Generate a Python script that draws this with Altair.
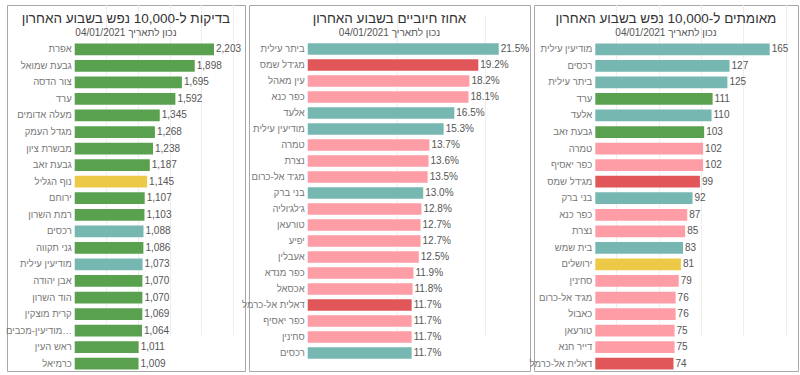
import altair as alt
import pandas as pd

# Panel 1: tests per 10,000 residents in the last week
t_names = ["אפרת", "גבעת שמואל", "צור הדסה", "ערד", "מעלה אדומים", "מגדל העמק",
           "מבשרת ציון", "גבעת זאב", "נוף הגליל", "ירוחם", "רמת השרון", "רכסים",
           "גני תקווה", "מודיעין עילית", "אבן יהודה", "הוד השרון", "קרית מוצקין",
           "מודיעין-מכבים-רעות", "ראש העין", "כרמיאל"]
t_vals = [2203, 1898, 1695, 1592, 1345, 1268, 1238, 1187, 1145, 1107, 1103, 1088,
          1086, 1073, 1070, 1070, 1069, 1064, 1011, 1009]
t_cols = ["g", "g", "g", "g", "g", "g", "g", "g", "y", "g", "g", "t",
          "g", "t", "g", "g", "g", "g", "g", "g"]

# Panel 2: percent positive in the last week
p_names = ["ביתר עילית", "מג'דל שמס", "עין מאהל", "כפר כנא", "אלעד", "מודיעין עילית",
           "טמרה", "נצרת", "מג'ד אל-כרום", "בני ברק", "ג'לג'וליה", "טורעאן", "יפיע",
           "אעבלין", "כפר מנדא", "אכסאל", "דאלית אל-כרמל", "כפר יאסיף", "סח'נין", "רכסים"]
p_vals = [21.5, 19.2, 18.2, 18.1, 16.5, 15.3, 13.7, 13.6, 13.5, 13.0, 12.8, 12.7, 12.7,
          12.5, 11.9, 11.8, 11.7, 11.7, 11.7, 11.7]
p_cols = ["t", "r", "p", "p", "t", "t", "p", "p", "p", "t", "p", "p", "p",
          "p", "p", "p", "r", "p", "p", "t"]

# Panel 3: confirmed per 10,000 residents in the last week
c_names = ["מודיעין עילית", "רכסים", "ביתר עילית", "ערד", "אלעד", "גבעת זאב", "טמרה",
           "כפר יאסיף", "מג'דל שמס", "בני ברק", "כפר כנא", "נצרת", "בית שמש", "ירושלים",
           "סח'נין", "מג'ד אל-כרום", "כאבול", "טורעאן", "דייר חנא", "דאלית אל-כרמל"]
c_vals = [165, 127, 125, 111, 110, 103, 102, 102, 99, 92, 87, 85, 83, 81, 79, 76, 76,
          75, 75, 74]
c_cols = ["t", "t", "t", "g", "t", "g", "p", "p", "r", "t", "p", "p", "t", "y",
          "p", "p", "p", "p", "p", "r"]

color_keys = ["g", "t", "p", "r", "y"]
color_vals = ["#59A14F", "#76B7B2", "#FF9DA7", "#E15759", "#EDC948"]

subtitle = "נכון לתאריך 04/01/2021"
FONT = "Liberation Sans"
VIEW_H = 366


def panel(names, vals, cols, width, domain, yrange, title, grid_vals, label_expr, limit):
    df = pd.DataFrame({"name": names, "v": vals, "c": cols})
    base = alt.Chart(df).transform_calculate(lab=label_expr).encode(
        y=alt.Y("name:N", sort=list(names), axis=None,
                scale=alt.Scale(range=yrange, paddingInner=0.29, paddingOuter=0.145))
    )
    xscale = alt.Scale(domain=domain, nice=False, zero=False)
    bars = base.mark_bar().encode(
        x=alt.X("v:Q", scale=xscale,
                axis=alt.Axis(values=grid_vals, labels=False, ticks=False, domain=False,
                              grid=True, gridColor="#eeeeee", title=None)),
        x2=alt.datum(0),
        color=alt.Color("c:N", scale=alt.Scale(domain=color_keys, range=color_vals),
                        legend=None),
    )
    labels = base.mark_text(align="right", dx=-3, fontSize=9.5, color="#777",
                            font=FONT, limit=limit).encode(
        x=alt.datum(0), text="name:N")
    values = base.mark_text(align="left", dx=2, fontSize=10, color="#555",
                            font=FONT).encode(
        x=alt.X("v:Q", scale=xscale), text="lab:N")
    return alt.layer(bars, labels, values).properties(
        width=width, height=VIEW_H,
        title=alt.TitleParams(text=title, subtitle=subtitle, offset=-33, fontSize=13.5,
                              fontWeight="normal", color="#333", font=FONT,
                              subtitleFont=FONT, subtitleFontSize=10,
                              subtitleColor="#555", anchor="middle", subtitlePadding=3),
    )


p1 = panel(t_names, t_vals, t_cols, 238, [-1071, 2693], [36, 367],
           "בדיקות ל-10,000 נפש בשבוע האחרון", [500, 1000, 1500, 2000, 2500],
           "format(datum.v, ',.0f')", 66)
p2 = panel(p_names, p_vals, p_cols, 281, [-6.61, 25.02], [36, 356],
           "אחוז חיוביים בשבוע האחרון", [10, 20],
           "format(datum.v, '.1f') + '%'", 200)
p3 = panel(c_names, c_vals, c_cols, 264, [-58.0, 191.8], [36, 367],
           "מאומתים ל-10,000 נפש בשבוע האחרון", [20, 40, 60, 80, 100, 120, 140, 160, 180],
           "format(datum.v, '.0f')", 200)

chart = alt.hconcat(p1, p2, p3, spacing=4, bounds="flush").properties(
    padding={"left": 5, "top": 4, "right": 0, "bottom": 0},
    background="white",
).configure_view(stroke="#a8a8a8", strokeWidth=1)

chart.save("out.html", embed_options={"renderer": "svg", "actions": False})
